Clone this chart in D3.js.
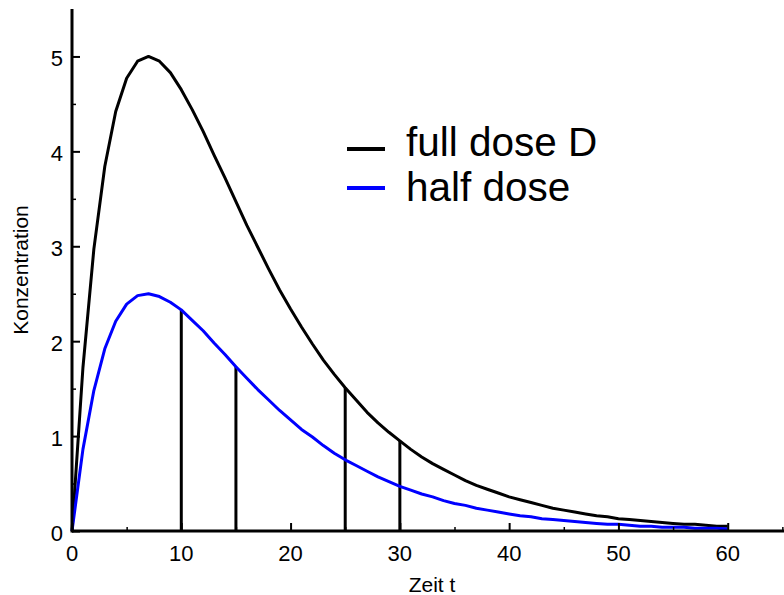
<!DOCTYPE html>
<html><head><meta charset="utf-8">
<script src="https://cdn.jsdelivr.net/npm/d3@7"></script>
<style>body{margin:0;background:#fff}svg{display:block}text{font-family:"Liberation Sans",Arial,sans-serif;fill:#000}</style>
</head><body>
<script>
const times = d3.range(0, 61);
const fullDose = [0,1.72,2.97,3.84,4.42,4.77,4.95,5.00,4.95,4.83,4.65,4.44,4.21,3.96,3.72,3.47,3.22,2.99,2.76,2.54,2.34,2.15,1.97,1.80,1.65,1.51,1.38,1.25,1.14,1.04,0.95,0.86,0.78,0.71,0.65,0.59,0.53,0.48,0.44,0.40,0.36,0.33,0.30,0.27,0.24,0.22,0.20,0.18,0.16,0.15,0.13,0.12,0.11,0.10,0.09,0.08,0.07,0.07,0.06,0.05,0.05];
const halfDose = [0,0.86,1.48,1.92,2.21,2.39,2.48,2.50,2.47,2.41,2.33,2.22,2.11,1.98,1.86,1.73,1.61,1.49,1.38,1.27,1.17,1.07,0.99,0.90,0.82,0.75,0.69,0.63,0.57,0.52,0.47,0.43,0.39,0.36,0.32,0.29,0.27,0.24,0.22,0.20,0.18,0.16,0.15,0.13,0.12,0.11,0.10,0.09,0.08,0.07,0.07,0.06,0.05,0.05,0.04,0.04,0.04,0.03,0.03,0.03,0.02];
const dropTimes = [10, 15, 25, 30];
const dropValues = [2.33, 1.73, 1.51, 0.95];
const xTicks = [0,10,20,30,40,50,60];
const yTicks = [0,1,2,3,4,5];
const legendLabels = ["full dose D", "half dose"];
const colors = ["#000000", "#0000ff"];

const W = 784, H = 595;
const svg = d3.select("body").append("svg").attr("width", W).attr("height", H);
const x = d3.scaleLinear().domain([0, 65.15]).range([72, 784]);
const y = d3.scaleLinear().domain([0, 5.5]).range([531, 9]);

// vertical drop lines
svg.selectAll("line.drop").data(dropTimes).enter().append("line")
  .attr("x1", d => x(d)).attr("x2", d => x(d))
  .attr("y1", y(0)).attr("y2", (d,i) => y(dropValues[i]))
  .attr("stroke", "#000").attr("stroke-width", 3);

const line = d3.line().x((d,i) => x(times[i])).y(d => y(d));
[fullDose, halfDose].forEach((s, k) => {
  svg.append("path").attr("d", line(s)).attr("fill", "none")
    .attr("stroke", colors[k]).attr("stroke-width", 3).attr("stroke-linejoin", "round");
});

// axes
const xAxis = d3.axisTop(x).tickValues(xTicks).tickSize(8).tickFormat("");
const gx = svg.append("g").attr("transform", `translate(0,${y(0)})`).call(xAxis);
gx.select(".domain").remove();
gx.selectAll("line").attr("stroke-width", 2);
const xMinor = d3.axisTop(x).tickValues([5,15,25,35,45,55,65]).tickSize(4).tickFormat("");
const gxm = svg.append("g").attr("transform", `translate(0,${y(0)})`).call(xMinor);
gxm.select(".domain").remove();
gxm.selectAll("line").attr("stroke-width", 1.5);

const yAxis = d3.axisRight(y).tickValues(yTicks).tickSize(8).tickFormat("");
const gy = svg.append("g").attr("transform", `translate(${x(0)},0)`).call(yAxis);
gy.select(".domain").remove();
gy.selectAll("line").attr("stroke-width", 2);
const yMinor = d3.axisRight(y).tickValues([0.5,1.5,2.5,3.5,4.5]).tickSize(4).tickFormat("");
const gym = svg.append("g").attr("transform", `translate(${x(0)},0)`).call(yMinor);
gym.select(".domain").remove();
gym.selectAll("line").attr("stroke-width", 1.5);

svg.append("line").attr("x1", x(0)).attr("x2", W).attr("y1", y(0)).attr("y2", y(0)).attr("stroke", "#000").attr("stroke-width", 3);
svg.append("line").attr("x1", x(0)).attr("x2", x(0)).attr("y1", y(0)+1.5).attr("y2", 9).attr("stroke", "#000").attr("stroke-width", 3);

// tick labels
svg.selectAll("text.xl").data(xTicks).enter().append("text")
  .attr("x", d => x(d)).attr("y", 561).attr("text-anchor", "middle")
  .style("font-size", "22px").text(d => d);
svg.selectAll("text.yl").data(yTicks).enter().append("text")
  .attr("x", 63).attr("y", d => y(d) + 10).attr("text-anchor", "end")
  .style("font-size", "22px").text(d => d);

// axis titles
svg.append("text").attr("x", 432).attr("y", 592).attr("text-anchor", "middle")
  .style("font-size", "21px").text("Zeit t");
svg.append("text").attr("transform", "translate(28,270) rotate(-90)").attr("text-anchor", "middle")
  .style("font-size", "21px").text("Konzentration");

// legend
const legendLineY = [149, 188];
const legendTextY = [156, 201];
legendLabels.forEach((lab, i) => {
  svg.append("line").attr("x1", 347).attr("x2", 385).attr("y1", legendLineY[i]).attr("y2", legendLineY[i])
    .attr("stroke", colors[i]).attr("stroke-width", 4);
  svg.append("text").attr("x", 406).attr("y", legendTextY[i]).style("font-size", "40.5px").text(lab);
});
</script>
</body></html>
